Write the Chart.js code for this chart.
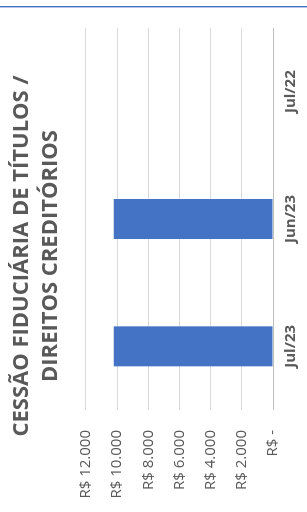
<!DOCTYPE html>
<html>
<head>
<meta charset="utf-8">
<script src="https://cdn.jsdelivr.net/npm/chart.js@4.4.1/dist/chart.umd.min.js"></script>
<style>
  html, body { margin: 0; padding: 0; background: #fff; }
  body { width: 307px; height: 512px; position: relative; overflow: hidden; }
  /* chart is laid out landscape, then turned a quarter to the left */
  #frame {
    position: absolute; left: 0; top: 0; width: 512px; height: 307px;
    transform-origin: 0 0; transform: translate(0, 512px) rotate(-90deg);
  }
  #rule {
    position: absolute; left: 0; top: 6px; width: 307px; height: 1px;
    background: #4472c4; border-bottom: 1px solid #b4c6e7;
  }
</style>
</head>
<body>
<div id="frame"><canvas id="chart"></canvas></div>
<div id="rule"></div>
<script>
/* ===== data ===== */
const months = ["Jul/23", "Jun/23", "Jul/22"];
const balances = [10220, 10220, null];
const titleLines = ["CESSÃO FIDUCIÁRIA DE TÍTULOS /", "DIREITOS CREDITÓRIOS"];
const axisMax = 12000;
const axisStep = 2000;

/* ===== shared styles ===== */
const textGray = "#595959";
const gridGray = "#d9d9d9";
const fontFamily = "'Open Sans', sans-serif";

function formatBRL(v) {
  if (v === 0) return "R$ -";
  return "R$ " + String(v).replace(/\B(?=(\d{3})+(?!\d))/g, ".");
}

new Chart(document.getElementById("chart"), {
  type: "bar",
  data: {
    labels: months,
    datasets: [{
      data: balances,
      backgroundColor: "#4472c4",
      borderWidth: 0,
      categoryPercentage: 1,
      barPercentage: 0.314,
    }],
  },
  options: {
    responsive: true,
    maintainAspectRatio: false,
    animation: false,
    layout: { padding: 0 },
    plugins: {
      legend: { display: false },
      tooltip: { enabled: false },
      title: {
        display: true,
        text: titleLines,
        color: textGray,
        font: { family: fontFamily, size: 22, weight: "bold", lineHeight: 1.318 },
        padding: { top: 7.5, bottom: 20.5 },
      },
    },
    scales: {
      x: {
        grid: { display: false, drawTicks: false },
        border: { display: false },
        ticks: { color: textGray, padding: 9, font: { family: fontFamily, size: 15, weight: "bold" } },
        afterFit: (scale) => { scale.height = 34; },
      },
      y: {
        min: 0,
        max: axisMax,
        grid: {
          drawTicks: false,
          color: (ctx) => (ctx.tick && ctx.tick.value === 0 ? "#bfbfbf" : gridGray),
        },
        border: { display: false },
        ticks: {
          stepSize: axisStep,
          color: textGray,
          padding: 20,
          font: { family: fontFamily, size: 15 },
          callback: (v) => formatBRL(v),
        },
        afterFit: (scale) => { scale.width = 102; },
      },
      // empty spacer on the right so the title stays centred on the whole chart
      spacer: {
        type: "linear",
        position: "right",
        grid: { display: false, drawTicks: false },
        border: { display: false },
        ticks: { display: false },
        afterFit: (scale) => { scale.width = 28; },
      },
    },
  },
});
</script>
</body>
</html>
